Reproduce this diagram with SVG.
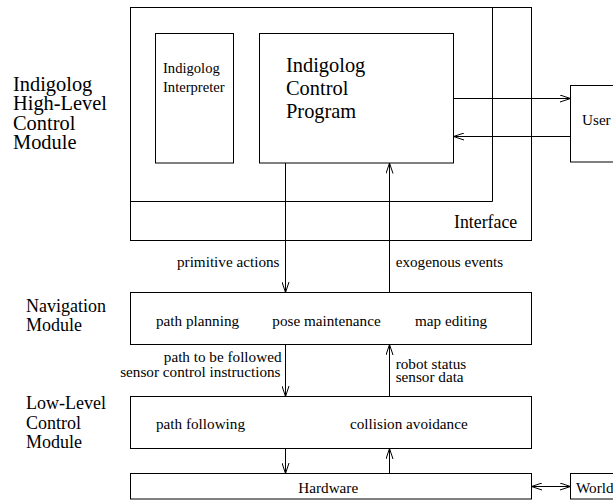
<svg xmlns="http://www.w3.org/2000/svg" width="613" height="500" viewBox="0 0 613 500" font-family="'Liberation Serif', 'DejaVu Serif', serif">
<style>
.box{fill:none;stroke:#000;stroke-width:1}
.ln{fill:none;stroke:#000;stroke-width:1}
text{font-family:'Liberation Serif','DejaVu Serif',serif;fill:#000}
.big{font-size:20.4px}
.mid{font-size:18px}
.sm{font-size:15.2px}
.xs{font-size:14.6px}
</style>
<defs>
<marker id="ah" viewBox="0 0 11 8" refX="10.5" refY="4" markerWidth="11" markerHeight="8" markerUnits="userSpaceOnUse" orient="auto-start-reverse">
<path d="M0,0.5 L10.5,4 L0,7.5" fill="none" stroke="#000" stroke-width="1"/>
</marker>
</defs>
<rect width="613" height="500" fill="#fff"/>
<g id="labels">
<text class="big" x="13" y="91">Indigolog</text>
<text class="big" x="13" y="110.3">High-Level</text>
<text class="big" x="13" y="129.6">Control</text>
<text class="big" x="13" y="148.9">Module</text>
<text class="mid" x="26" y="311.7">Navigation</text>
<text class="mid" x="26" y="331">Module</text>
<text class="mid" x="26" y="409.3">Low-Level</text>
<text class="mid" x="26" y="428.5">Control</text>
<text class="mid" x="26" y="447.5">Module</text>
</g>
<g id="highlevel">
<rect class="box" x="130.5" y="7.5" width="401" height="233"/>
<path class="ln" d="M492.5,7.5 V201.5 H130.5"/>
<text x="454" y="227.7" style="font-size:17.8px">Interface</text>
</g>
<g id="interpreter">
<rect class="box" x="155.5" y="33.5" width="78" height="129.5"/>
<text class="xs" x="163" y="72.7">Indigolog</text>
<text class="xs" x="163" y="92.3">Interpreter</text>
</g>
<g id="controlprogram">
<rect class="box" x="259.5" y="33.5" width="194" height="129.5"/>
<text class="big" x="286" y="71.7">Indigolog</text>
<text class="big" x="286" y="94.7">Control</text>
<text class="big" x="286" y="117.7">Program</text>
</g>
<g id="user">
<rect class="box" x="570.5" y="85.5" width="60" height="76.5"/>
<text class="sm" x="582" y="124.5">User</text>
</g>
<g id="navigation">
<rect class="box" x="130.5" y="292.5" width="401" height="52"/>
<text class="sm" x="156" y="325.5">path planning</text>
<text class="sm" x="272.3" y="325.5">pose maintenance</text>
<text class="sm" x="415" y="325.5">map editing</text>
</g>
<g id="lowlevel">
<rect class="box" x="130.5" y="396.5" width="401" height="52"/>
<text class="sm" x="156" y="429">path following</text>
<text class="sm" x="350" y="429">collision avoidance</text>
</g>
<g id="hardware">
<rect class="box" x="130.5" y="473.5" width="401" height="25.5"/>
<text class="sm" x="298.3" y="493">Hardware</text>
</g>
<g id="world">
<rect class="box" x="570.5" y="473.5" width="60" height="25.5"/>
<text class="sm" x="576" y="493">World</text>
</g>
<g id="connectors">
<line class="ln" x1="285.5" y1="163" x2="285.5" y2="292.5" marker-end="url(#ah)"/>
<line class="ln" x1="389.5" y1="292.5" x2="389.5" y2="163" marker-end="url(#ah)"/>
<line class="ln" x1="453.5" y1="98.5" x2="570.5" y2="98.5" marker-end="url(#ah)"/>
<line class="ln" x1="570.5" y1="136.5" x2="453.5" y2="136.5" marker-end="url(#ah)"/>
<line class="ln" x1="285.5" y1="344.5" x2="285.5" y2="396.5" marker-end="url(#ah)"/>
<line class="ln" x1="389.5" y1="396.5" x2="389.5" y2="344.5" marker-end="url(#ah)"/>
<line class="ln" x1="285.5" y1="448.5" x2="285.5" y2="473.5" marker-end="url(#ah)"/>
<line class="ln" x1="389.5" y1="473.5" x2="389.5" y2="448.5" marker-end="url(#ah)"/>
<line class="ln" x1="531.5" y1="486.5" x2="570.5" y2="486.5" marker-start="url(#ah)" marker-end="url(#ah)"/>
<text class="sm" x="279.5" y="266.7" text-anchor="end">primitive actions</text>
<text class="sm" x="395.7" y="266.7">exogenous events</text>
<text class="sm" x="281.5" y="362.3" text-anchor="end">path to be followed</text>
<text class="sm" x="280.5" y="376.7" text-anchor="end">sensor control instructions</text>
<text class="sm" x="395.7" y="369">robot status</text>
<text class="sm" x="395.7" y="382.3">sensor data</text>
</g>
</svg>
